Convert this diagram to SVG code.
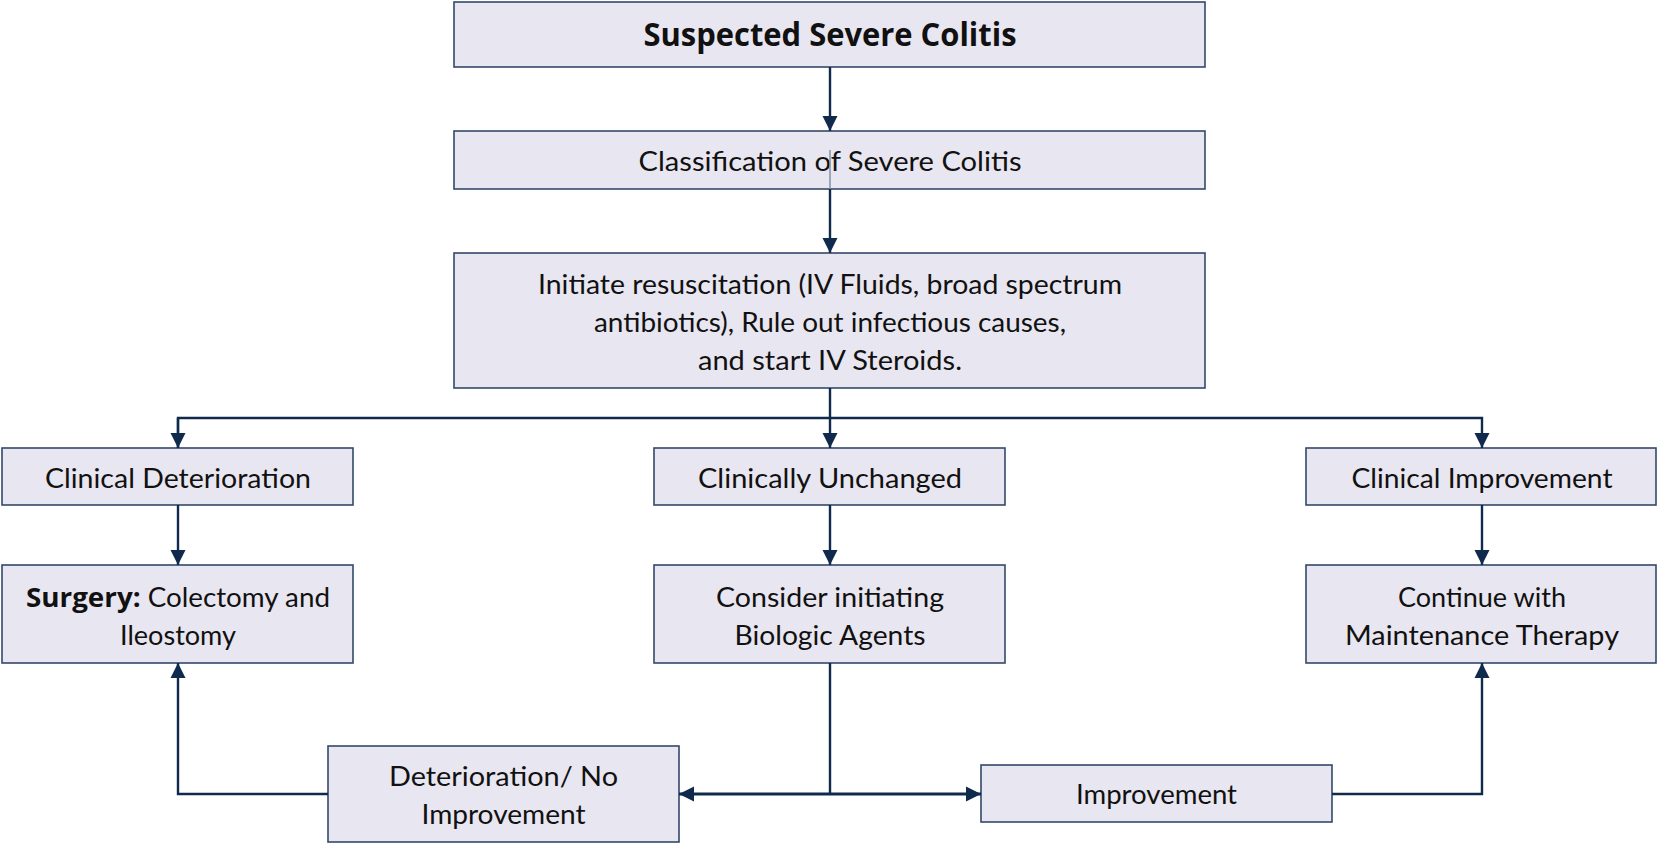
<svg xmlns="http://www.w3.org/2000/svg" width="1657" height="844" viewBox="0 0 1657 844">
<defs>
<style>
.box{fill:#e8e6f0;stroke:#34496a;stroke-width:1.6}
.t{font-family:Lato,"Open Sans","Liberation Sans",sans-serif;font-size:27px;fill:#111;text-anchor:middle}
.b{font-family:"Open Sans","Liberation Sans",sans-serif;font-weight:700}
.title{font-size:33px}
.c{fill:none;stroke:#0f2a4d;stroke-width:2.4}
.c3{fill:none;stroke:#0f2a4d;stroke-width:3}
</style>
<marker id="ah" markerUnits="userSpaceOnUse" markerWidth="16" markerHeight="16" viewBox="0 0 16 16" refX="15" refY="8" orient="auto">
<path d="M0,0.5 L15,8 L0,15.5 z" fill="#0f2a4d"/>
</marker>
</defs>
<rect width="1657" height="844" fill="#fff"/>
<g id="nodes">
<g id="n-suspected">
<rect class="box" x="454" y="2" width="751" height="65"/>
<text class="t b title" x="830" y="46" textLength="373" lengthAdjust="spacingAndGlyphs">Suspected Severe Colitis</text>
</g>
<g id="n-classification">
<rect class="box" x="454" y="131" width="751" height="58"/>
<text class="t" x="830" y="171" textLength="383" lengthAdjust="spacingAndGlyphs">Classification of Severe Colitis</text>
</g>
<g id="n-initiate">
<rect class="box" x="454" y="253" width="751" height="135"/>
<text class="t" x="830" y="294" textLength="584" lengthAdjust="spacingAndGlyphs">Initiate resuscitation (IV Fluids, broad spectrum</text>
<text class="t" x="830" y="332" textLength="472" lengthAdjust="spacingAndGlyphs">antibiotics), Rule out infectious causes,</text>
<text class="t" x="830" y="370" textLength="264" lengthAdjust="spacingAndGlyphs">and start IV Steroids.</text>
</g>
<g id="n-deterioration">
<rect class="box" x="2" y="448" width="351" height="57"/>
<text class="t" x="178" y="488" textLength="266" lengthAdjust="spacingAndGlyphs">Clinical Deterioration</text>
</g>
<g id="n-unchanged">
<rect class="box" x="654" y="448" width="351" height="57"/>
<text class="t" x="830" y="488" textLength="264" lengthAdjust="spacingAndGlyphs">Clinically Unchanged</text>
</g>
<g id="n-improvement-clin">
<rect class="box" x="1306" y="448" width="350" height="57"/>
<text class="t" x="1482" y="488" textLength="261" lengthAdjust="spacingAndGlyphs">Clinical Improvement</text>
</g>
<g id="n-surgery">
<rect class="box" x="2" y="565" width="351" height="98"/>
<text class="t" x="178" y="607" textLength="304" lengthAdjust="spacingAndGlyphs"><tspan class="b">Surgery:</tspan> Colectomy and</text>
<text class="t" x="178" y="645" textLength="116" lengthAdjust="spacingAndGlyphs">Ileostomy</text>
</g>
<g id="n-biologic">
<rect class="box" x="654" y="565" width="351" height="98"/>
<text class="t" x="830" y="607" textLength="228" lengthAdjust="spacingAndGlyphs">Consider initiating</text>
<text class="t" x="830" y="645" textLength="191" lengthAdjust="spacingAndGlyphs">Biologic Agents</text>
</g>
<g id="n-maintenance">
<rect class="box" x="1306" y="565" width="350" height="98"/>
<text class="t" x="1482" y="607" textLength="168" lengthAdjust="spacingAndGlyphs">Continue with</text>
<text class="t" x="1482" y="645" textLength="274" lengthAdjust="spacingAndGlyphs">Maintenance Therapy</text>
</g>
<g id="n-det-noimp">
<rect class="box" x="328" y="746" width="351" height="96"/>
<text class="t" x="503.5" y="786" textLength="229" lengthAdjust="spacingAndGlyphs">Deterioration/ No</text>
<text class="t" x="503.5" y="824" textLength="164" lengthAdjust="spacingAndGlyphs">Improvement</text>
</g>
<g id="n-improvement">
<rect class="box" x="981" y="765" width="351" height="57"/>
<text class="t" x="1156.5" y="804" textLength="161" lengthAdjust="spacingAndGlyphs">Improvement</text>
</g>
</g>
<g id="connectors">
<path class="c" d="M830,67 V131" marker-end="url(#ah)"/>
<path d="M830,150 V189" stroke="#8090a8" stroke-width="1.5" fill="none"/>
<path class="c" d="M830,189 V253" marker-end="url(#ah)"/>
<path class="c" d="M830,388 V448" marker-end="url(#ah)"/>
<path class="c" d="M178,448 V418 H1482 V448" marker-end="url(#ah)"/>
<path class="c" d="M178,418 V448" marker-end="url(#ah)"/>
<path class="c" d="M178,505 V565" marker-end="url(#ah)"/>
<path class="c" d="M830,505 V565" marker-end="url(#ah)"/>
<path class="c" d="M1482,505 V565" marker-end="url(#ah)"/>
<path class="c" d="M830,663 V794"/>
<path class="c3" d="M830,794 H679" marker-end="url(#ah)"/>
<path class="c3" d="M830,794 H981" marker-end="url(#ah)"/>
<path class="c" d="M328,794 H178 V663" marker-end="url(#ah)"/>
<path class="c" d="M1332,794 H1482 V663" marker-end="url(#ah)"/>
</g>
</svg>
